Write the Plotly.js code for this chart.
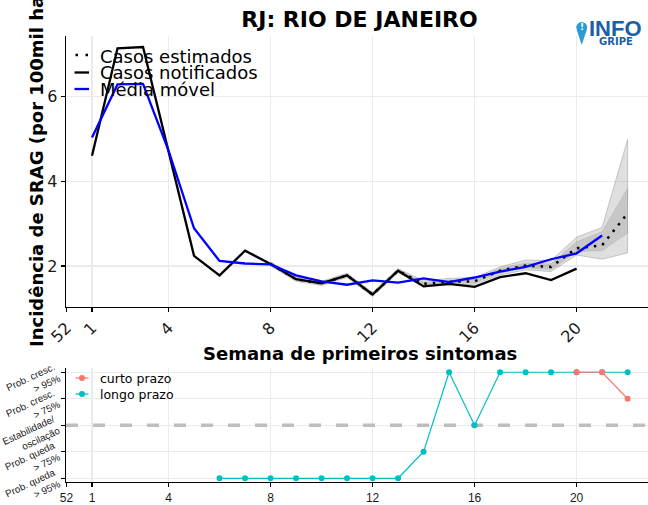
<!DOCTYPE html>
<html>
<head>
<meta charset="utf-8">
<script src="https://cdn.plot.ly/plotly-3.0.1.min.js"></script>
<style>
  html, body { margin: 0; padding: 0; background: #fff; }
  #chart { width: 648px; height: 505px; }
</style>
</head>
<body>
<div id="chart"></div>
<script>
// ---------------- DATA ----------------
const chartTitle = 'RJ: RIO DE JANEIRO';
const yTitle = 'Incidência de SRAG (por 100mil habitantes)';
const xTitle = 'Semana de primeiros sintomas';

// week positions (0 = epi week 52 of previous year)
const tickPos = [0, 1, 4, 8, 12, 16, 20];
const tickLabels = ['52', '1', '4', '8', '12', '16', '20'];

const weeksNotified = [1,2,3,4,5,6,7,8,9,10,11,12,13,14,15,16,17,18,19,20];
const notified = [4.60, 7.13, 7.16, 4.70, 2.24, 1.78, 2.36, 2.05, 1.69, 1.59, 1.78, 1.33, 1.89, 1.52, 1.58, 1.51, 1.74, 1.83, 1.67, 1.94];

const weeksAvg = [1,2,3,4,5,6,7,8,9,10,11,12,13,14,15,16,17,18,19,20,21];
const movingAvg = [5.03, 6.28, 6.29, 4.72, 2.89, 2.12, 2.06, 2.04, 1.78, 1.64, 1.56, 1.66, 1.61, 1.71, 1.62, 1.73, 1.87, 1.98, 2.16, 2.30, 2.72];

const weeksEst = [8,9,10,11,12,13,14,15,16,17,18,19,20,21,22];
const estimated = [2.05, 1.69, 1.59, 1.78, 1.33, 1.89, 1.58, 1.63, 1.64, 1.89, 2.01, 1.98, 2.42, 2.49, 3.24];
const estLow95  = [2.00, 1.64, 1.54, 1.73, 1.28, 1.84, 1.51, 1.55, 1.57, 1.79, 1.91, 1.87, 2.26, 2.16, 2.31];
const estHigh95 = [2.10, 1.74, 1.64, 1.83, 1.38, 1.94, 1.65, 1.71, 1.73, 1.98, 2.14, 2.13, 2.68, 2.91, 4.98];
const estLow50  = [2.02, 1.67, 1.57, 1.76, 1.31, 1.87, 1.54, 1.59, 1.61, 1.84, 1.96, 1.92, 2.34, 2.36, 2.78];
const estHigh50 = [2.08, 1.71, 1.61, 1.80, 1.35, 1.91, 1.61, 1.67, 1.69, 1.94, 2.07, 2.05, 2.57, 2.81, 3.83];

const legendTop = ['Casos estimados', 'Casos notificados', 'Média móvel'];

// trend panel: -2 = Prob. queda > 95%, ..., 2 = Prob. cresc. > 95%
const trendLevels = [-2, -1, 0, 1, 2];
const trendLabels = ['Prob. queda<br>> 95%', 'Prob. queda<br>> 75%', 'Estabilidade/<br>oscilação', 'Prob. cresc.<br>> 75%', 'Prob. cresc.<br>> 95%'];
const weeksLong = [6,7,8,9,10,11,12,13,14,15,16,17,18,19,20,21,22];
const trendLong = [-2,-2,-2,-2,-2,-2,-2,-2,-1,2,0,2,2,2,2,2,2];
const weeksShort = [20,21,22];
const trendShort = [2,2,1];
const legendBottom = ['curto prazo', 'longo prazo'];

// ---------------- STYLE / LAYOUT ----------------
const W = 648, H = 505;
const L = 66, R = 648, T = 36, B = 482;
const px = x => (x - L) / (R - L);
const py = y => (B - y) / (B - T);

const COL_SHORT = '#F8766D', COL_LONG = '#00BFC4';
const FONT = 'DejaVu Sans';
const FONT2 = 'Liberation Sans';

function band(lo, hi, xs) {
  return { x: xs.concat(xs.slice().reverse()), y: hi.concat(lo.slice().reverse()) };
}
const b95 = band(estLow95, estHigh95, weeksEst);
const b50 = band(estLow50, estHigh50, weeksEst);

const traces = [
  { x: b95.x, y: b95.y, xaxis: 'x', yaxis: 'y', type: 'scatter', mode: 'lines', fill: 'toself',
    fillcolor: 'rgba(128,128,128,0.25)', line: { color: 'rgba(140,140,140,0.55)', width: 0.8 }, showlegend: false, hoverinfo: 'skip' },
  { x: b50.x, y: b50.y, xaxis: 'x', yaxis: 'y', type: 'scatter', mode: 'lines', fill: 'toself',
    fillcolor: 'rgba(128,128,128,0.25)', line: { color: 'rgba(140,140,140,0.4)', width: 0.6 }, showlegend: false, hoverinfo: 'skip' },
  { x: weeksNotified, y: notified, xaxis: 'x', yaxis: 'y', type: 'scatter', mode: 'lines',
    line: { color: '#000000', width: 2.3 }, name: legendTop[1], showlegend: false },
  { x: weeksEst, y: estimated, xaxis: 'x', yaxis: 'y', type: 'scatter', mode: 'lines',
    line: { color: '#000000', width: 2.5, dash: '2.5px,6px' }, name: legendTop[0], showlegend: false },
  { x: weeksAvg, y: movingAvg, xaxis: 'x', yaxis: 'y', type: 'scatter', mode: 'lines',
    line: { color: '#0000FF', width: 2.3 }, name: legendTop[2], showlegend: false },
  { x: weeksLong, y: trendLong, xaxis: 'x2', yaxis: 'y2', type: 'scatter', mode: 'lines+markers',
    line: { color: COL_LONG, width: 1.2 }, marker: { color: COL_LONG, size: 6 }, name: legendBottom[1], showlegend: false },
  { x: weeksShort, y: trendShort, xaxis: 'x2', yaxis: 'y2', type: 'scatter', mode: 'lines+markers',
    line: { color: COL_SHORT, width: 1.2 }, marker: { color: COL_SHORT, size: 6 }, name: legendBottom[0], showlegend: false }
];

const axisCommon = {
  showline: true, linecolor: '#000', linewidth: 1.3, mirror: false,
  ticks: 'outside', ticklen: 4, tickcolor: '#000', tickwidth: 1.2,
  showgrid: true, gridcolor: '#EBEBEB', gridwidth: 1.3, zeroline: false
};
const xRange = [-0.02, 22.8];

const shapes = [
  // stability reference line (in the subplot layer, above the grid)
  { type: 'line', xref: 'x2', yref: 'y2', x0: xRange[0], x1: xRange[1], y0: 0, y1: 0, layer: 'between',
    line: { color: '#BEBEBE', width: 3.5, dash: '12px,15px' } },
  // top legend symbols
  { type: 'line', xref: 'paper', yref: 'paper', x0: px(75.5), x1: px(89), y0: py(55), y1: py(55),
    line: { color: '#000', width: 2.5, dash: '2.5px,7.5px' } },
  { type: 'line', xref: 'paper', yref: 'paper', x0: px(74.5), x1: px(89), y0: py(72.5), y1: py(72.5),
    line: { color: '#000', width: 2.3 } },
  { type: 'line', xref: 'paper', yref: 'paper', x0: px(74.5), x1: px(89), y0: py(89), y1: py(89),
    line: { color: '#0000FF', width: 2.3 } },
  // bottom legend symbols
  { type: 'line', xref: 'paper', yref: 'paper', x0: px(75.5), x1: px(88.5), y0: py(378), y1: py(378),
    line: { color: COL_SHORT, width: 1.2 } },
  { type: 'circle', xref: 'paper', yref: 'paper', x0: px(79), x1: px(85), y0: py(381), y1: py(375),
    fillcolor: COL_SHORT, line: { width: 0 } },
  { type: 'line', xref: 'paper', yref: 'paper', x0: px(75.5), x1: px(88.5), y0: py(394), y1: py(394),
    line: { color: COL_LONG, width: 1.2 } },
  { type: 'circle', xref: 'paper', yref: 'paper', x0: px(79), x1: px(85), y0: py(397), y1: py(391),
    fillcolor: COL_LONG, line: { width: 0 } },
  // logo pin
  { type: 'circle', xref: 'paper', yref: 'paper', x0: px(576.3), x1: px(587.2), y0: py(32.8), y1: py(21.9),
    fillcolor: '#2C9AD6', line: { width: 0 } },
  { type: 'path', xref: 'paper', yref: 'paper',
    path: 'M ' + px(576.6) + ',' + py(29.5) + ' L ' + px(586.9) + ',' + py(29.5) + ' L ' + px(581.75) + ',' + py(45) + ' Z',
    fillcolor: '#2C9AD6', line: { width: 0 } }
];

const annotations = [
  { text: '<b>' + yTitle + '</b>', xref: 'paper', yref: 'paper', x: px(36), y: py(349),
    xanchor: 'center', yanchor: 'bottom', textangle: -90, showarrow: false,
    font: { family: FONT, size: 18, color: '#000' } },
  { text: '<b>' + xTitle + '</b>', xref: 'paper', yref: 'paper', x: px(359.5), y: py(353),
    xanchor: 'center', yanchor: 'middle', showarrow: false,
    font: { family: FONT, size: 18, color: '#000' } },
  // top legend text
  { text: legendTop[0], xref: 'paper', yref: 'paper', x: px(98), y: py(56), xanchor: 'left', yanchor: 'middle',
    showarrow: false, font: { family: FONT, size: 18, color: '#000' } },
  { text: legendTop[1], xref: 'paper', yref: 'paper', x: px(98), y: py(72.5), xanchor: 'left', yanchor: 'middle',
    showarrow: false, font: { family: FONT, size: 18, color: '#000' } },
  { text: legendTop[2], xref: 'paper', yref: 'paper', x: px(98), y: py(89), xanchor: 'left', yanchor: 'middle',
    showarrow: false, font: { family: FONT, size: 18, color: '#000' } },
  // bottom legend text
  { text: legendBottom[0], xref: 'paper', yref: 'paper', x: px(97.5), y: py(378), xanchor: 'left', yanchor: 'middle',
    showarrow: false, font: { family: FONT, size: 12.5, color: '#000' } },
  { text: legendBottom[1], xref: 'paper', yref: 'paper', x: px(97.5), y: py(394), xanchor: 'left', yanchor: 'middle',
    showarrow: false, font: { family: FONT, size: 12.5, color: '#000' } },
  // logo text
  { text: '!', xref: 'paper', yref: 'paper', x: px(581.75), y: py(27.3), xanchor: 'center', yanchor: 'middle',
    showarrow: false, font: { family: FONT, size: 9, color: '#fff', weight: 'bold' } },
  { text: 'INFO', xref: 'paper', yref: 'paper', x: px(587), y: py(28.5), xanchor: 'left', yanchor: 'middle',
    showarrow: false, font: { family: FONT2, size: 22, color: '#1B5EAB', weight: 'bold' } },
  { text: 'GRIPE', xref: 'paper', yref: 'paper', x: px(616), y: py(41.3), xanchor: 'center', yanchor: 'middle',
    showarrow: false, font: { family: FONT, size: 10, color: '#1B5EAB', weight: 'bold' } }
];

// trend-level tick labels (rotated, two lines, right-aligned at the axis)
trendLevels.forEach((lv, i) => {
  annotations.push({
    text: trendLabels[i], xref: 'paper', yref: 'y2', x: px(63.5), y: lv, yshift: -10.5,
    xanchor: 'right', yanchor: 'middle', align: 'right', textangle: -25, showarrow: false,
    borderpad: 0, font: { family: FONT2, size: 9.8, color: '#1a1a1a' }
  });
});

const layout = {
  width: W, height: H,
  margin: { l: L, r: W - R, t: T, b: H - B, pad: 0 },
  paper_bgcolor: '#fff', plot_bgcolor: '#fff',
  showlegend: false,
  title: { text: chartTitle, x: 359.5 / W, xref: 'container', xanchor: 'center',
           y: 1 - 19.5 / H, yref: 'container', yanchor: 'middle',
           font: { family: FONT, size: 22, color: '#000', weight: 'bold' } },
  xaxis: Object.assign({}, axisCommon, {
    anchor: 'y', domain: [0, 1], range: xRange,
    tickmode: 'array', tickvals: tickPos, ticktext: tickLabels, tickangle: -45,
    tickfont: { family: FONT, size: 16, color: '#1a1a1a' }
  }),
  yaxis: Object.assign({}, axisCommon, {
    anchor: 'x', domain: [py(307), 1], range: [1.035, 7.42],
    tickmode: 'array', tickvals: [2, 4, 6],
    tickfont: { family: FONT, size: 16, color: '#1a1a1a' }
  }),
  xaxis2: Object.assign({}, axisCommon, {
    anchor: 'y2', domain: [0, 1], range: xRange,
    tickmode: 'array', tickvals: tickPos, ticktext: tickLabels, tickangle: 0,
    tickfont: { family: FONT2, size: 12, color: '#1a1a1a' }
  }),
  yaxis2: Object.assign({}, axisCommon, {
    anchor: 'x2', domain: [0, py(368)], range: [-2.14, 2.16],
    tickmode: 'array', tickvals: trendLevels, showticklabels: false
  }),
  shapes: shapes,
  annotations: annotations
};

Plotly.newPlot('chart', traces, layout, { displayModeBar: false, staticPlot: true });
</script>
</body>
</html>
